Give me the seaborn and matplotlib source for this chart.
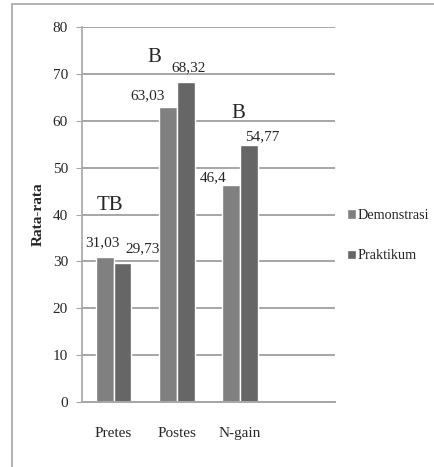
import matplotlib
matplotlib.use("Agg")
import matplotlib.pyplot as plt
import seaborn as sns
import pandas as pd
from matplotlib.patches import Rectangle, Patch

categories = ["Pretes", "Postes", "N-gain"]
demonstrasi = [31.03, 63.03, 46.4]
praktikum = [29.73, 68.32, 54.77]
demo_labels = ["31,03", "63,03", "46,4"]
prak_labels = ["29,73", "68,32", "54,77"]
group_marks = ["TB", "B", "B"]
mark_heights = [42, 73.5, 61.6]

df = pd.DataFrame({
    "kelas": categories * 2,
    "metode": ["Demonstrasi"] * 3 + ["Praktikum"] * 3,
    "nilai": demonstrasi + praktikum,
})

sns.set_style("white")
plt.rcParams["font.family"] = ["Liberation Serif", "DejaVu Serif"]

fig = plt.figure(figsize=(4.35, 4.67), dpi=100)
ax = fig.add_axes([0.1885, 0.139, 0.5815, 0.803])

palette = {"Demonstrasi": "#808080", "Praktikum": "#666666"}
sns.barplot(data=df, x="kelas", y="nilai", hue="metode",
            order=categories + [" "], palette=palette,
            width=0.56, gap=0, saturation=1, ax=ax, legend=False)

ax.set_xlim(-0.5, 3.5)
ax.set_ylim(0, 80)
ax.set_yticks(range(0, 81, 10))
ax.yaxis.grid(True, color="#a6a6a6", linewidth=1.4)
ax.set_axisbelow(True)
for s in ["top", "right"]:
    ax.spines[s].set_visible(False)
ax.spines["left"].set_color("#a6a6a6")
ax.spines["bottom"].set_color("#a6a6a6")
ax.spines["left"].set_linewidth(1.2)
ax.spines["bottom"].set_linewidth(1.4)
ax.tick_params(axis="y", length=4, color="#a6a6a6", labelsize=11, pad=6, left=True)
ax.tick_params(axis="x", length=0, labelsize=11, pad=18)
ax.set_xlabel("")
ax.set_ylabel("Rata-rata", fontsize=11, fontweight="bold", labelpad=6)

# label placement (Excel-style, shifted around the bars)
demo_dx = [-0.17, -0.46, -0.43]
demo_dy = [2.9, 2.4, 1.4]
prak_dx = [0.46, 0.18, 0.35]
prak_dy = [3.1, 3.1, 1.9]
mark_dx = [-0.06, -0.35, -0.03]

for i in range(len(categories)):
    ax.text(i + demo_dx[i], demonstrasi[i] + demo_dy[i], demo_labels[i],
            ha="center", va="center", fontsize=11)
    ax.text(i + prak_dx[i], praktikum[i] + prak_dy[i], prak_labels[i],
            ha="center", va="center", fontsize=11)
    ax.text(i + mark_dx[i], mark_heights[i], group_marks[i], ha="center",
            va="center", fontsize=15)

handles = [Patch(facecolor=palette[k], label=k) for k in ["Demonstrasi", "Praktikum"]]
ax.legend(handles=handles, loc="center left", bbox_to_anchor=(1.02, 0.444),
          frameon=False, fontsize=10.2, handlelength=0.6, handleheight=0.65,
          handletextpad=0.15, labelspacing=1.95, borderpad=0)

fig.patches.append(Rectangle((12 / 435, -0.1), 1.2, 1.1 - 4 / 467,
                             transform=fig.transFigure, fill=False,
                             edgecolor="#a6a6a6", linewidth=1.2))

fig.savefig("out.png", dpi=100)
